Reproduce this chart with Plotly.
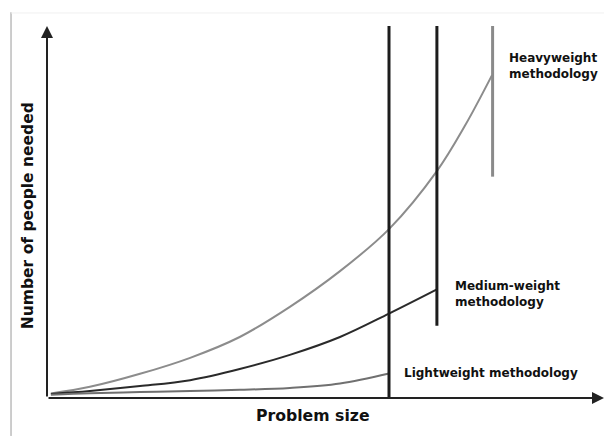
import plotly.graph_objects as go

# Data (arbitrary units: problem size 0-100, people needed 0-100)
problem_size = [0.7, 7.7, 16.7, 25.7, 34.6, 43.6, 52.6, 61.4, 70.0, 75.0, 79.9]
heavy = [1.2, 3.0, 6.5, 10.8, 16.4, 24.5, 34.1, 45.4, 61.0, 73.1, 86.8]
medium = [1.1, 1.9, 3.2, 4.8, 7.8, 11.6, 16.4, 22.7, 29.2]
light = [0.9, 1.3, 1.6, 1.9, 2.2, 2.7, 3.9, 6.6]

limit_x = [61.4, 70.0, 80.0]
limit_bottom = [0.0, 19.4, 59.5]
limit_top = [100.3, 100.3, 100.3]
limit_colors = ["#1c1c1c", "#1c1c1c", "#8a8a8a"]

labels = ["Heavyweight<br>methodology", "Medium-weight<br>methodology", "Lightweight methodology"]
label_x = [82.6, 72.9, 63.7]
label_y = [89.2, 28.0, 6.7]

FONT = "DejaVu Sans"

fig = go.Figure()

fig.add_trace(go.Scatter(x=problem_size, y=heavy, mode="lines",
                         line=dict(color="#8c8c8c", width=2, shape="spline"), cliponaxis=False))
fig.add_trace(go.Scatter(x=problem_size[:len(medium)], y=medium, mode="lines",
                         line=dict(color="#2a2a2a", width=2, shape="spline"), cliponaxis=False))
fig.add_trace(go.Scatter(x=problem_size[:len(light)], y=light, mode="lines",
                         line=dict(color="#707070", width=2, shape="spline"), cliponaxis=False))

for lx, lb, lt, lc in zip(limit_x, limit_bottom, limit_top, limit_colors):
    fig.add_trace(go.Scatter(x=[lx, lx], y=[lb, lt], mode="lines",
                             line=dict(color=lc, width=3), cliponaxis=False))

# axes with arrows
fig.add_annotation(x=100, y=0, ax=0, ay=0, xref="x", yref="y", axref="x", ayref="y",
                   showarrow=True, arrowhead=2, arrowsize=1.2, arrowwidth=2, arrowcolor="#222", text="")
fig.add_annotation(x=0, y=100, ax=0, ay=0, xref="x", yref="y", axref="x", ayref="y",
                   showarrow=True, arrowhead=2, arrowsize=1.2, arrowwidth=2, arrowcolor="#222", text="")

for t, x, y in zip(labels, label_x, label_y):
    fig.add_annotation(x=x, y=y, xref="x", yref="y", text="<b>" + t + "</b>", showarrow=False,
                       xanchor="left", yanchor="middle", align="left",
                       font=dict(family=FONT, size=12, color="#111"))

fig.add_annotation(x=0.478, y=-0.048, xref="paper", yref="paper", text="<b>Problem size</b>",
                   showarrow=False, xanchor="center", yanchor="middle",
                   font=dict(family=FONT, size=15.7, color="#111"))
fig.add_annotation(x=-0.034, y=0.489, xref="paper", yref="paper", text="<b>Number of people needed</b>",
                   showarrow=False, textangle=-90, xanchor="center", yanchor="middle",
                   font=dict(family=FONT, size=15.5, color="#111"))

# frame lines
fig.add_shape(type="line", xref="paper", yref="paper", x0=-0.0646, x1=-0.0646, y0=1.037, y1=-0.102,
              line=dict(color="#9a9a9a", width=1))
fig.add_shape(type="line", xref="paper", yref="paper", x0=-0.0646, x1=1.0, y0=1.035, y1=1.035,
              line=dict(color="#f0f0f0", width=1))

fig.update_layout(
    width=605, height=439,
    margin=dict(l=47, r=1, t=26, b=41),
    plot_bgcolor="white", paper_bgcolor="white",
    showlegend=False,
    xaxis=dict(range=[0, 100], visible=False, fixedrange=True),
    yaxis=dict(range=[0, 100], visible=False, fixedrange=True),
)

fig.write_html("out.html", config={"displayModeBar": False},
               post_script="document.body.style.margin='0';document.body.style.overflow='hidden';")
